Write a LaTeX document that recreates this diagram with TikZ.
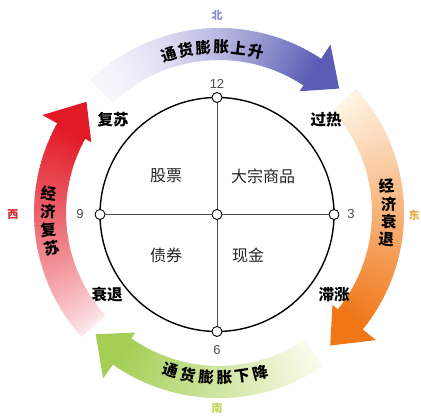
\documentclass[tikz,border=0pt]{standalone}
\usepackage{fontspec}
\setmainfont{Liberation Sans}
\newfontfamily\cjk{Noto Sans CJK SC}
\definecolor{cBlue}{RGB}{92,92,182}
\definecolor{pBlue}{RGB}{246,246,253}
\definecolor{cOrange}{RGB}{240,118,22}
\definecolor{pOrange}{RGB}{254,245,230}
\definecolor{cGreen}{RGB}{164,206,84}
\definecolor{pGreen}{RGB}{250,252,236}
\definecolor{cRed}{RGB}{226,26,38}
\definecolor{pRed}{RGB}{254,236,240}
\definecolor{dBlue}{RGB}{140,140,210}
\definecolor{dOrange}{RGB}{235,170,60}
\definecolor{dGreen}{RGB}{195,212,90}
\definecolor{dRed}{RGB}{215,40,50}
% #1 start angle, #2 head base angle, #3 tip angle, #4 full colour, #5 pale colour, #6 exponent
\newcommand\gradarrow[6]{%
  \foreach \i in {0,...,59}{%
    \pgfmathsetmacro\aa{#1+(#2-#1)*\i/60}%
    \pgfmathsetmacro\ab{#1+(#2-#1)*(\i+1.3)/60}%
    \pgfmathsetmacro\p{100*((\i+0.5)/60)^#6}%
    \fill[#4!\p!#5] (\aa:\rin) arc[start angle=\aa,end angle=\ab,radius=\rin]
      -- (\ab:\rout) arc[start angle=\ab,end angle=\aa,radius=\rout] -- cycle;
  }%
  \fill[#4] (#2:\hin) -- (#3:\rtip) -- (#2:\hout) -- cycle;
}
\begin{document}
\begin{tikzpicture}[x=1pt,y=1pt,
  quad/.style={font=\cjk\fontsize{16}{16}\selectfont, text=black!85, inner sep=0pt},
  corner/.style={font=\cjk\bfseries\fontsize{15.5}{15.5}\selectfont, inner sep=0pt},
  num/.style={font=\fontsize{13}{13}\selectfont, text=black!70, inner sep=0pt},
  dot/.style={circle, draw=black, fill=white, line width=0.9pt, minimum size=10pt, inner sep=0pt},
  dir/.style={font=\cjk\bfseries\fontsize{11}{11}\selectfont, inner sep=0pt},
  arcchar/.style={font=\cjk\bfseries\fontsize{15.5}{15.5}\selectfont, inner sep=0pt},
  axis/.style={draw=black!70, line width=1pt}
]
\useasboundingbox (0,0) rectangle (421,417);
\fill[white] (0,0) rectangle (421,417);

% ---- coloured ring arrows
\begin{scope}[shift={(219,204)}]
  \def\rin{153}\def\rout{185}\def\hin{146}\def\hout{202}\def\rtip{173}
  \gradarrow{134}{56.5}{46}{cBlue}{pBlue}{1.6}
  \gradarrow{42}{-39}{-50}{cOrange}{pOrange}{1.0}
  \gradarrow{-56}{-125}{-135.5}{cGreen}{pGreen}{1.0}
  \gradarrow{222}{151}{140}{cRed}{pRed}{0.8}
  % texts on the arrows
  \foreach \ch [count=\k from 0] in {通,货,膨,胀,上,升}{%
    \pgfmathsetmacro\ang{107.5-6.1*\k}%
    \node[arcchar, rotate=\ang-90] (up\k) at (\ang:166) {\ch};
  }
  \foreach \ch [count=\k from 0] in {通,货,膨,胀,下,降}{%
    \pgfmathsetmacro\ang{-107+6.3*\k}%
    \node[arcchar, rotate=\ang+90] (dn\k) at (\ang:165) {\ch};
  }
  \foreach \ch [count=\k from 0] in {经,济,衰,退}{%
    \pgfmathsetmacro\ang{9.2-6.1*\k}%
    \node[arcchar, rotate=0.5*\ang] (rt\k) at (\ang:170) {\ch};
  }
  \foreach \ch [count=\k from 0] in {经,济,复,苏}{%
    \pgfmathsetmacro\ang{173.5+6.1*\k}%
    \node[arcchar, rotate=\ang-180] (lt\k) at (\ang:171) {\ch};
  }
\end{scope}

% ---- clock circle
\coordinate (O) at (217,202.5);
\draw[line width=1.4pt] (O) circle[radius=117];
\node[dot] (top) at (217,319.5) {};
\node[dot] (bot) at (217,85.5) {};
\node[dot] (lft) at (100,202.5) {};
\node[dot] (rgt) at (334,202.5) {};
\node[dot] (ctr) at (O) {};
\draw[axis] (top) -- (ctr);
\draw[axis] (ctr) -- (bot);
\draw[axis] (lft) -- (ctr);
\draw[axis] (ctr) -- (rgt);

\node[num] (n12) at (217,333) {12};
\node[num] (n6) at (217,67) {6};
\node[num] (n9) at (80,202.5) {9};
\node[num] (n3) at (351,202.5) {3};

\node[quad] (q1) at (166,241) {股票};
\node[quad] (q2) at (263,241) {大宗商品};
\node[quad] (q3) at (166,162) {债券};
\node[quad] (q4) at (248,162) {现金};

\node[corner] (c1) at (113,297) {复苏};
\node[corner] (c2) at (326,297) {过热};
\node[corner] (c3) at (107,122) {衰退};
\node[corner] (c4) at (334,122) {滞涨};

\node[dir, text=dBlue] (north) at (217,402) {北};
\node[dir, text=dOrange] (east) at (414,202) {东};
\node[dir, text=dGreen] (south) at (217,9) {南};
\node[dir, text=dRed] (west) at (13,202) {西};
\end{tikzpicture}
\end{document}
